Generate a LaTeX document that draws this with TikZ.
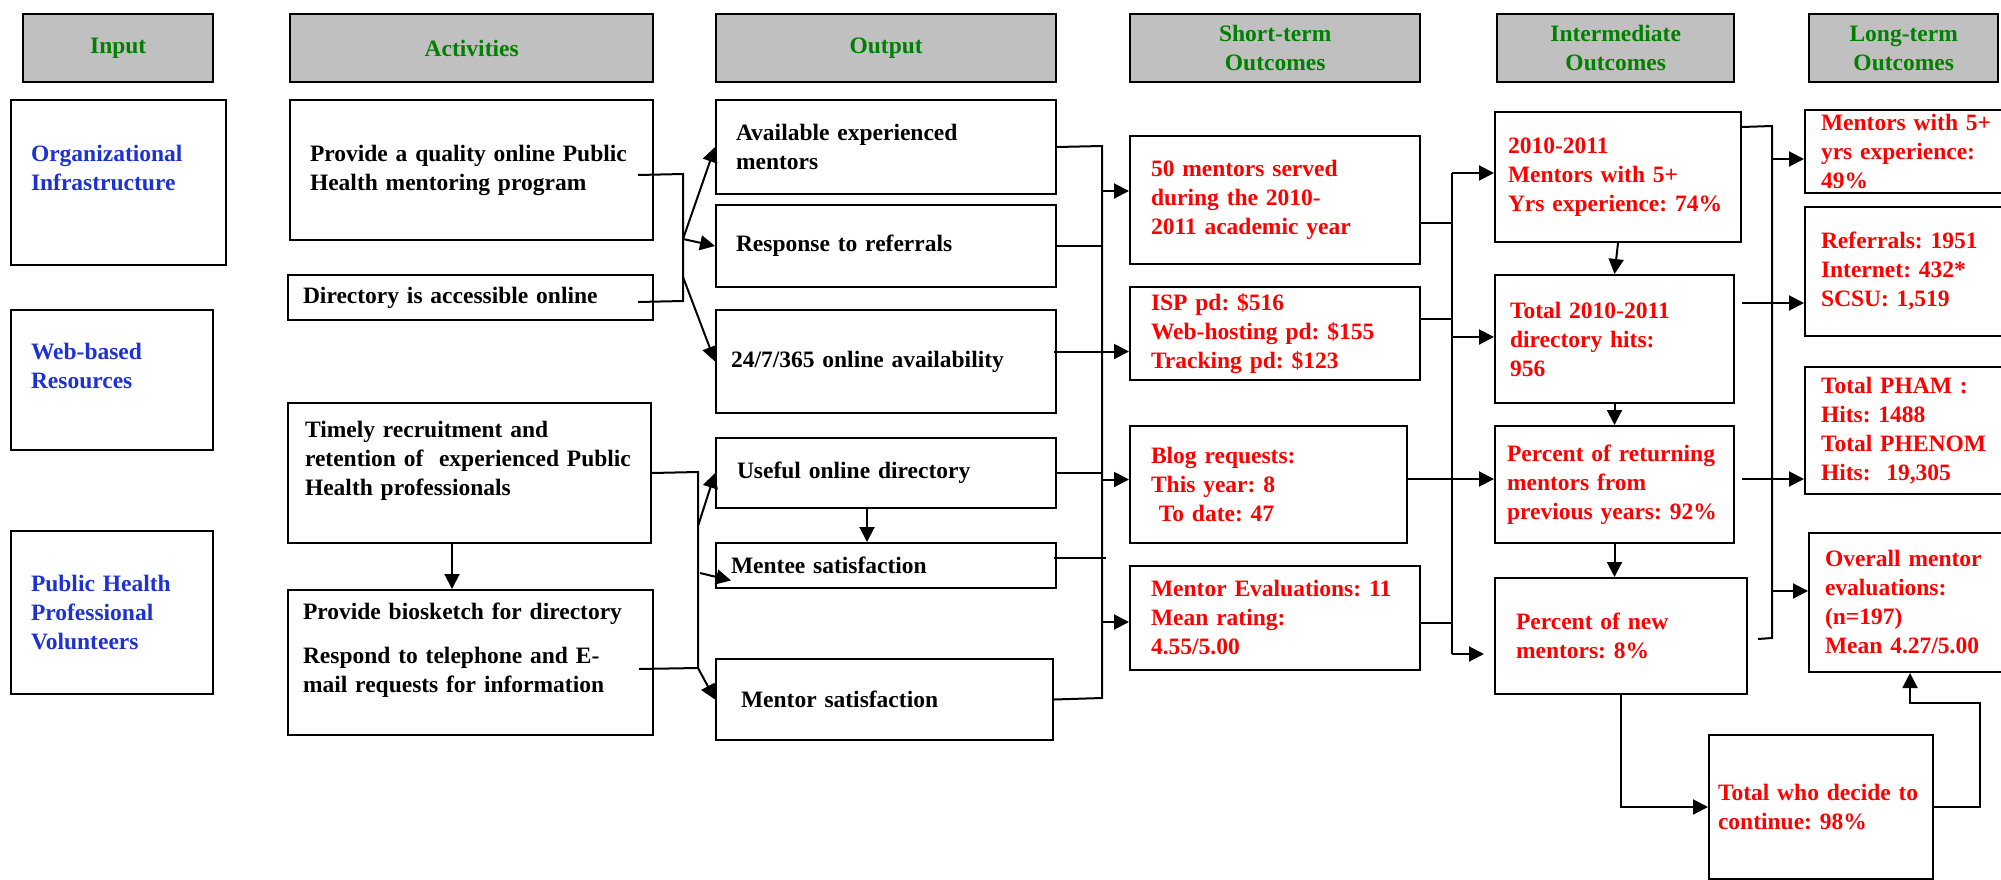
\documentclass[tikz,border=0pt]{standalone}
\usepackage{fontspec}
\setmainfont{Liberation Serif}
\usetikzlibrary{arrows.meta,calc}
\definecolor{hdrgray}{RGB}{192,192,192}
\definecolor{hdrgreen}{RGB}{0,128,0}
\definecolor{inblue}{RGB}{30,50,210}
\definecolor{outred}{RGB}{255,0,0}
\frenchspacing
\hyphenpenalty=10000
\exhyphenpenalty=10000

\begin{document}
\begin{tikzpicture}[x=1pt,y=-1pt,
	every node/.style={font=\fontsize{23.5}{29}\selectfont\bfseries},
	hdr/.style={draw,line width=2.4pt,fill=hdrgray,text=hdrgreen,align=center,inner sep=0pt,anchor=north west,minimum height=68pt},
	box/.style={draw,line width=2pt,align=left,inner sep=0pt,anchor=north west},
	link/.style={line width=2pt},
	arr/.style={line width=2pt,-{Triangle[length=15pt,width=15pt]}}]

	% one unit is one pixel of the 2001 x 880 page, y grows downwards
	\useasboundingbox (0,0) rectangle (2001,880);
	\fill[white] (0,0) rectangle (2001,880);

	% column heads
	\node[hdr,minimum width=190pt] (hin) at (22,13) {Input};
	\node[hdr,minimum width=363pt] (hact) at (289,13) {Activities};
	\node[hdr,minimum width=340pt] (hout) at (715,13) {Output};
	\node[hdr,minimum width=290pt] (hst) at (1129,13) {Short-term\\Outcomes};
	\node[hdr,minimum width=237pt] (hint) at (1496,13) {Intermediate\\Outcomes};
	\node[hdr,minimum width=189pt] (hlt) at (1808,13) {Long-term\\Outcomes};

	% input
	\node[box,text=inblue,minimum width=215pt,minimum height=165pt,text width=175pt] (org) at (10,99) {Organizational\\Infrastructure\\~};
	\node[box,text=inblue,minimum width=202pt,minimum height=140pt,text width=162pt] (web) at (10,309) {Web-based\\Resources\\~};
	\node[box,text=inblue,minimum width=202pt,minimum height=163pt,text width=162pt] (vol) at (10,530) {Public Health\\Professional\\Volunteers};

	% activities
	\node[box,minimum width=363pt,minimum height=140pt,text width=323pt] (qual) at (289,99) {Provide a quality online Public\\Health mentoring program};
	\node[box,minimum width=365pt,minimum height=45pt,text width=335pt] (dir) at (287,274) {Directory is accessible online};
	\node[box,minimum width=363pt,minimum height=140pt,text width=329pt] (recr) at (287,402) {Timely recruitment and\\retention of~ experienced Public\\Health professionals\\~};
	\node[box,minimum width=365pt,minimum height=145pt,text width=335pt] (bio) at (287,589) {Provide biosketch for directory\\[15pt]Respond to telephone and E-\\mail requests for information\\~};

	% output
	\node[box,minimum width=340pt,minimum height=94pt,text width=300pt] (avail) at (715,99) {Available experienced\\mentors};
	\node[box,minimum width=340pt,minimum height=82pt,text width=300pt] (resp) at (715,204) {Response to referrals};
	\node[box,minimum width=340pt,minimum height=103pt,text width=310pt] (online) at (715,309) {24/7/365 online availability};
	\node[box,minimum width=340pt,minimum height=70pt,text width=298pt] (useful) at (715,437) {Useful online directory};
	\node[box,minimum width=340pt,minimum height=45pt,text width=310pt] (mentee) at (715,542) {Mentee satisfaction};
	\node[box,minimum width=337pt,minimum height=81pt,text width=287pt] (mentorsat) at (715,658) {Mentor satisfaction};

	% short-term outcomes
	\node[box,text=outred,minimum width=290pt,minimum height=128pt,text width=248pt] (served) at (1129,135) {50 mentors served\\during the 2010-\\2011 academic year};
	\node[box,text=outred,minimum width=290pt,minimum height=93pt,text width=248pt] (isp) at (1129,286) {ISP pd: \$516\\Web-hosting pd: \$155\\Tracking pd: \$123};
	\node[box,text=outred,minimum width=277pt,minimum height=117pt,text width=235pt] (blog) at (1129,425) {Blog requests:\\This year: 8\\~To date: 47};
	\node[box,text=outred,minimum width=290pt,minimum height=104pt,text width=248pt] (eval) at (1129,565) {Mentor Evaluations: 11\\Mean rating:\\4.55/5.00};

	% intermediate outcomes
	\node[box,text=outred,minimum width=246pt,minimum height=130pt,text width=220pt] (yr) at (1494,111) {2010-2011\\Mentors with 5+\\Yrs experience: 74\%};
	\node[box,text=outred,minimum width=239pt,minimum height=128pt,text width=209pt] (hits) at (1494,274) {Total 2010-2011\\directory hits:\\956};
	\node[box,text=outred,minimum width=239pt,minimum height=117pt,text width=215pt] (ret) at (1494,425) {Percent of returning\\mentors from\\previous years: 92\%};
	\node[box,text=outred,minimum width=252pt,minimum height=116pt,text width=210pt] (new) at (1494,577) {Percent of new\\mentors: 8\%};
	\node[box,text=outred,minimum width=224pt,minimum height=144pt,text width=206pt] (cont) at (1708,734) {Total who decide to\\continue: 98\%};

	% long-term outcomes
	\node[box,text=outred,minimum width=206pt,minimum height=83pt,text width=174pt] (lta) at (1804,109) {Mentors with 5+\\yrs experience:\\49\%};
	\node[box,text=outred,minimum width=206pt,minimum height=129pt,text width=174pt] (ltb) at (1804,206) {Referrals: 1951\\Internet: 432*\\SCSU: 1,519};
	\node[box,text=outred,minimum width=206pt,minimum height=127pt,text width=174pt] (ltc) at (1804,366) {Total PHAM :\\Hits: 1488\\Total PHENOM\\Hits:~ 19,305};
	\node[box,text=outred,minimum width=202pt,minimum height=139pt,text width=170pt] (ltd) at (1808,532) {Overall mentor\\evaluations:\\(n=197)\\Mean 4.27/5.00};

	% activities -> output
	\coordinate (acta) at (683,174);
	\coordinate (actb) at (683,301);
	\coordinate (actm) at (683,239);
	\coordinate (actl) at (683,277);
	\draw[link] ($(qual.east)+(-16,5)$) -- (acta) -- (actb) -- ($(dir.east)+(-16,4.5)$);
	\draw[arr] (actm) -- (avail.west);
	\draw[arr] (actm) -- (resp.west);
	\draw[arr] (actl) -- (online.west);

	\coordinate (reca) at (698,472);
	\coordinate (recb) at (698,668);
	\coordinate (recm) at (698,526);
	\coordinate (recn) at (700,573);
	\draw[link] (recr.east) -- (reca) -- (recb) -- ($(bio.east)+(-15,6.5)$);
	\draw[arr] (recm) -- (useful.west);
	\draw[arr] (recn) -- ($(mentee.west)+(16,15)$);
	\draw[arr] (recb) -- (mentorsat.west);
	\draw[arr] ($(recr.south)+(-17.5,0)$) -- ($(recr.south |- bio.north)+(-17.5,0)$);
	\draw[arr] ($(useful.south)+(-19,0)$) -- ($(useful.south |- mentee.north)+(-19,0)$);

	% output -> short-term
	\coordinate (outa) at (1102,146);
	\coordinate (outb) at (1102,698);
	\draw[link] (avail.east) -- (outa) -- (outb) -- (mentorsat.east);
	\draw[link] (resp.east) -- (resp.east -| outa);
	\draw[link] (useful.east) -- (useful.east -| outa);
	\draw[link] ($(mentee.east)+(-3,-7.5)$) -- ($(mentee.east -| outa)+(4,-7.5)$);
	\draw[arr] ($(served.west -| outa)+(0,-9)$) -- ($(served.west)+(0,-9)$);
	\draw[arr] ($(online.east)+(-3,-10)$) -- ($(online.east -| isp.west)+(0,-10)$);
	\draw[arr] ($(blog.west -| outa)+(0,-5)$) -- ($(blog.west)+(0,-5)$);
	\draw[arr] ($(eval.west -| outa)+(0,4)$) -- ($(eval.west)+(0,4)$);

	% short-term -> intermediate
	\coordinate (sta) at (1452,173);
	\coordinate (stb) at (1452,654);
	\draw[link] (sta) -- (stb);
	\draw[arr] (sta) -- (sta -| yr.west);
	\draw[link] ($(served.east)+(0,23)$) -- ($(served.east -| sta)+(0,23)$);
	\draw[link] ($(isp.east)+(0,-14.5)$) -- ($(isp.east -| sta)+(0,-14.5)$);
	\draw[arr] ($(hits.west -| sta)+(0,-2)$) -- ($(hits.west)+(0,-2)$);
	\draw[arr] ($(blog.east)+(0,-5.5)$) -- ($(ret.west)+(0,-5.5)$);
	\draw[link] ($(eval.east)+(0,5)$) -- ($(eval.east -| sta)+(0,5)$);
	\draw[arr] (stb) -- ($(stb -| new.west)+(-10,0)$);

	\draw[arr] (yr.south) -- (hits.north);
	\draw[arr] (hits.south) -- (ret.north);
	\draw[arr] (ret.south) -- (ret.south |- new.north);
	\draw[arr] (new.south) |- (cont.west);

	% intermediate -> long-term
	\coordinate (ima) at (1772,126);
	\coordinate (imb) at (1772,638);
	\draw[link] ($(yr.east)+(0,-50)$) -- (ima) -- (imb) -- ($(new.east)+(10,3)$);
	\draw[arr] ($(lta.west -| ima)+(0,7.5)$) -- ($(lta.west)+(0,7.5)$);
	\draw[arr] ($(hits.east)+(7,-36)$) -- ($(hits.east -| ltb.west)+(0,-36)$);
	\draw[arr] ($(ret.east)+(7,-5.5)$) -- ($(ret.east -| ltc.west)+(0,-5.5)$);
	\draw[arr] ($(ltd.west -| ima)+(0,-11.5)$) -- ($(ltd.west)+(0,-11.5)$);

	\coordinate (loop) at (1980,703);
	\draw[arr] (cont.east) -| (loop) -| (ltd.south);

\end{tikzpicture}
\end{document}
